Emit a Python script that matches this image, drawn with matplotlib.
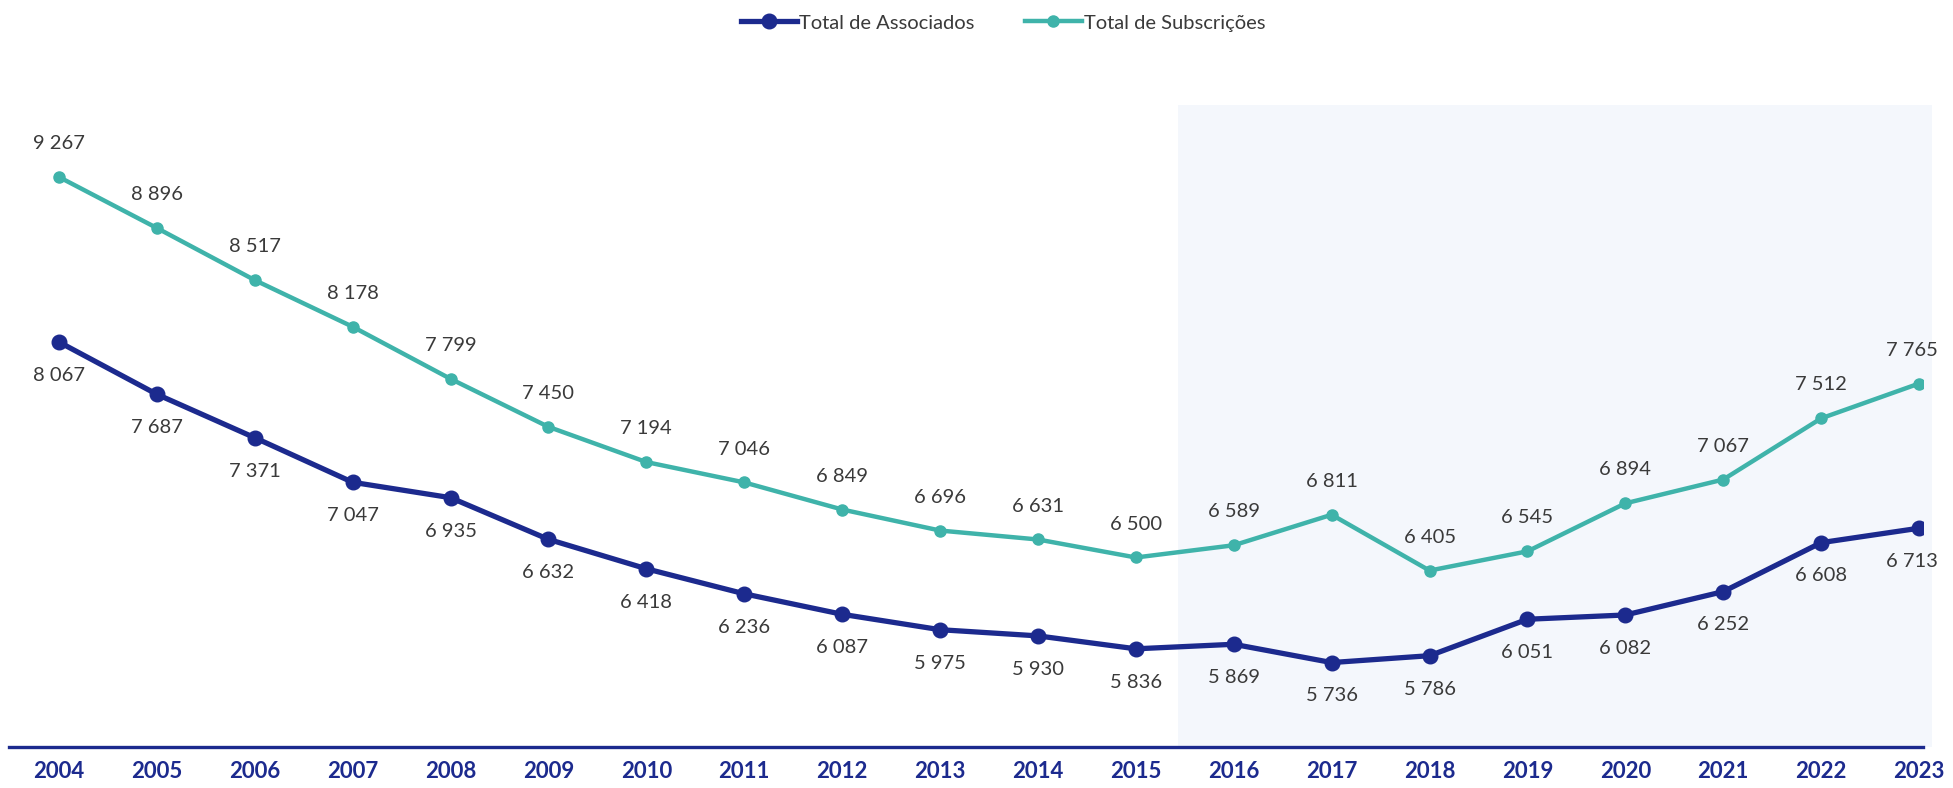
import matplotlib.pyplot as plt
from matplotlib.lines import Line2D

# yearly totals
years = list(range(2004, 2024))
associados = [8067, 7687, 7371, 7047, 6935, 6632, 6418, 6236, 6087, 5975,
              5930, 5836, 5869, 5736, 5786, 6051, 6082, 6252, 6608, 6713]
subscricoes = [9267, 8896, 8517, 8178, 7799, 7450, 7194, 7046, 6849, 6696,
               6631, 6500, 6589, 6811, 6405, 6545, 6894, 7067, 7512, 7765]

NAVY = '#1c2a8e'
TEAL = '#3fb3aa'
TXT = '#3a3a3a'

plt.rcParams['font.family'] = ['Lato', 'DejaVu Sans']

fig = plt.figure(figsize=(19.53, 7.88), dpi=100)
ax = fig.add_axes([9 / 1953, 41 / 788, 1914 / 1953, 747 / 788])


def fmt(v):
    return '{:,}'.format(v).replace(',', ' ')


# light shaded band behind the recent years
ax.axvspan(2015.43, 2023.13, ymin=0, ymax=0.86, color='#f4f7fc', zorder=0,
           clip_on=False, lw=0)

ax.plot(years, subscricoes, color=TEAL, lw=3.2, marker='o', ms=8,
        zorder=3, label='Total de Subscrições')
ax.plot(years, associados, color=NAVY, lw=3.8, marker='o', ms=10.5,
        zorder=4, label='Total de Associados')

last = years[-1]
for x, v in zip(years, subscricoes):
    dx = -5 if x == last else 0
    ax.annotate(fmt(v), (x, v), xytext=(dx, 24), textcoords='offset points',
                ha='center', va='center', fontsize=14.5, color=TXT)
for x, v in zip(years, associados):
    dx = -5 if x == last else 0
    ax.annotate(fmt(v), (x, v), xytext=(dx, -24), textcoords='offset points',
                ha='center', va='center', fontsize=14.5, color=TXT)

ax.set_xlim(2003.49, 2023.04)
ax.set_ylim(5122, 10554)
ax.set_facecolor('none')
for s in ['top', 'right', 'left']:
    ax.spines[s].set_visible(False)
ax.spines['bottom'].set_color(NAVY)
ax.spines['bottom'].set_linewidth(2.4)
ax.set_yticks([])
ax.set_xticks(years)
ax.set_xticklabels([str(y) for y in years], fontsize=16, fontweight='bold',
                   color=NAVY)
ax.tick_params(axis='x', length=0, pad=10)

handles = [
    Line2D([], [], color=NAVY, lw=3.8, marker='o', ms=10.5),
    Line2D([], [], color=TEAL, lw=3.2, marker='o', ms=8),
]
fig.legend(handles, ['Total de Associados', 'Total de Subscrições'],
           loc='center', bbox_to_anchor=(1003 / 1953, 1 - 23 / 788),
           ncol=2, frameon=False, fontsize=14.5, handlelength=2.8,
           columnspacing=2.5, handletextpad=0.1, labelcolor=TXT)

fig.savefig('out.png', dpi=100, facecolor='white')
